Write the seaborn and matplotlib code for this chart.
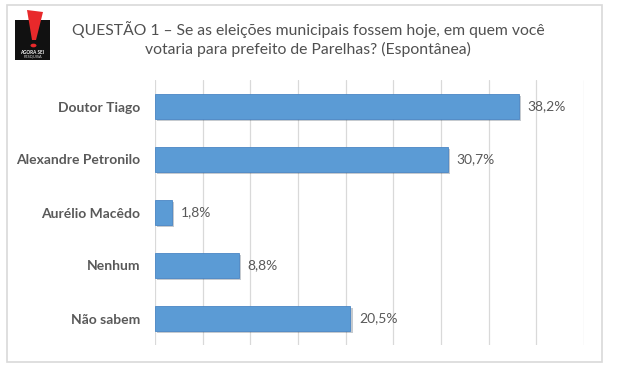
import matplotlib
matplotlib.use("Agg")
import matplotlib.pyplot as plt
import matplotlib.patches as mpatches
import matplotlib.patheffects as pe
import seaborn as sns
import pandas as pd

# dados da pesquisa
candidatos = ["Doutor Tiago", "Alexandre Petronilo", "Aurélio Macêdo", "Nenhum", "Não sabem"]
percentuais = [38.2, 30.7, 1.8, 8.8, 20.5]
rotulos = ["38,2%", "30,7%", "1,8%", "8,8%", "20,5%"]
titulo = "QUESTÃO 1 – Se as eleições municipais fossem hoje, em quem você\nvotaria para prefeito de Parelhas? (Espontânea)"

sns.set_style("white")
plt.rcParams['font.family'] = ['Lato', 'DejaVu Sans']

W, H = 620, 380
fig = plt.figure(figsize=(6.2, 3.8), dpi=100)
fig.patch.set_facecolor("white")

def fx(x):
    return x / W

def fy(y):
    return 1 - y / H

# moldura do grafico
fig.add_artist(mpatches.Rectangle((fx(7), fy(362)), fx(602) - fx(7), fy(5) - fy(362),
                                  transform=fig.transFigure, fill=False,
                                  edgecolor="#d9d9d9", linewidth=1.2))

ax = fig.add_axes([fx(155), fy(345), fx(584) - fx(155), fy(80) - fy(345)])

df = pd.DataFrame({"candidato": candidatos, "pct": percentuais})
sns.barplot(data=df, y="candidato", x="pct", orient="h", color="#5b9bd5",
            width=0.47, saturation=1, ax=ax, zorder=3)

for bar in ax.patches:
    bar.set_edgecolor("#4a86c5")
    bar.set_linewidth(0.6)
    bar.set_path_effects([pe.SimplePatchShadow(offset=(1.5, -1.5), alpha=0.25), pe.Normal()])

ax.set_xlim(0, 45)
ax.set_xticks(range(0, 50, 5))
ax.set_xticklabels([])
ax.tick_params(axis="both", length=0)
ax.grid(axis="x", color="#d9d9d9", linewidth=0.9, zorder=0)
ax.set_axisbelow(True)
for s in ax.spines.values():
    s.set_visible(False)
ax.set_xlabel("")
ax.set_ylabel("")
for lbl in ax.get_yticklabels():
    lbl.set_fontweight("bold")
    lbl.set_color("#595959")
    lbl.set_fontsize(10)
ax.tick_params(axis="y", pad=10.5)

for i, (v, t) in enumerate(zip(percentuais, rotulos)):
    ax.text(v + 0.9, i, t, va="center", ha="left", fontsize=10, color="#595959")

fig.text(fx(308), fy(39), titulo, ha="center", va="center", fontsize=11.3,
         color="#505050", linespacing=1.35)

# logotipo
fig.add_artist(mpatches.Rectangle((fx(15), fy(60)), fx(35), fy(20) - fy(60),
                                  transform=fig.transFigure, facecolor="#111111",
                                  edgecolor="none"))
fig.add_artist(mpatches.Polygon([(fx(27), fy(10)), (fx(43), fy(12)), (fx(36), fy(40)), (fx(32), fy(40))],
                                transform=fig.transFigure, facecolor="#e8292b", edgecolor="none"))
fig.add_artist(mpatches.Circle((fx(33.5), fy(45.5)), fx(3), transform=fig.transFigure,
                               facecolor="#e8292b", edgecolor="none"))
fig.text(fx(32.5), fy(52.5), "AGORA SEI", ha="center", va="center", fontsize=3.3,
         color="white", fontweight="bold")
fig.text(fx(32.5), fy(57), "PESQUISA", ha="center", va="center", fontsize=2.8,
         color="#dddddd")

fig.savefig("out.png", dpi=100)
